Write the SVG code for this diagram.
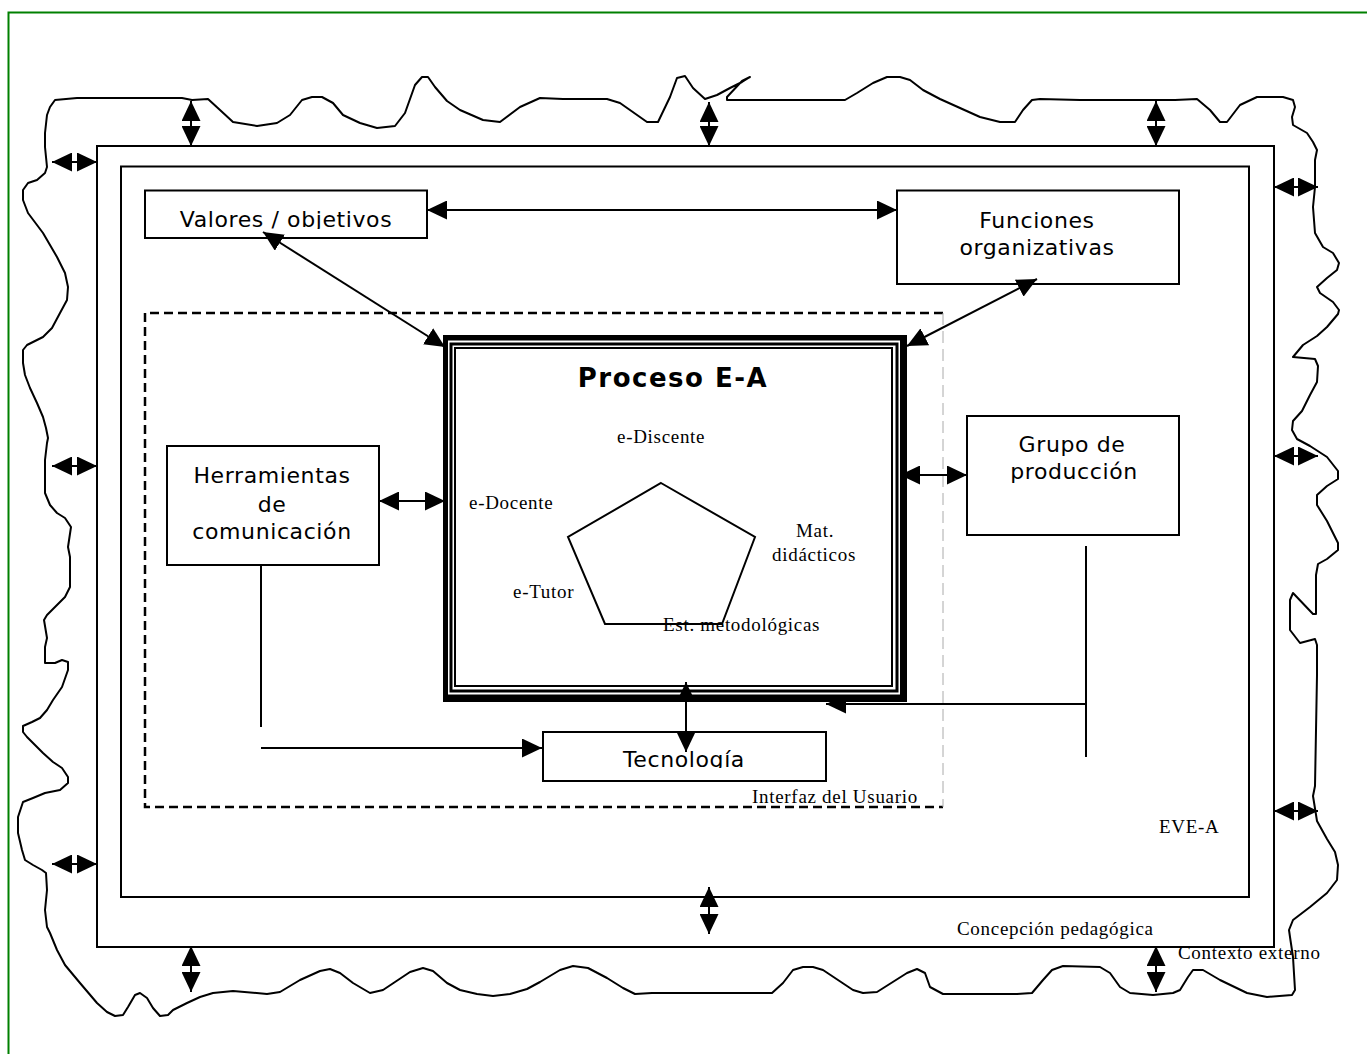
<svg xmlns="http://www.w3.org/2000/svg" width="1367" height="1054" viewBox="0 0 1367 1054">
<defs>
<style>
.ln{fill:none;stroke:#000;stroke-width:2}
.box{fill:#fff;stroke:#000;stroke-width:2}
.sans{font-family:"DejaVu Sans","Verdana",sans-serif;font-size:22px;letter-spacing:0.6px;fill:#000;text-anchor:middle}
.serif{font-family:"Liberation Serif","Times New Roman",serif;font-size:19px;letter-spacing:0.7px;fill:#000}
.con{fill:none;stroke:#000;stroke-width:2}
.dbl{marker-start:url(#ah);marker-end:url(#ah)}
.end{marker-end:url(#ah)}
</style>
<marker id="ah" viewBox="0 0 20 19" refX="20" refY="9.5" markerWidth="20" markerHeight="19" markerUnits="userSpaceOnUse" orient="auto-start-reverse">
<path d="M0,0 L20,9.5 L0,19 Z" fill="#000"/>
</marker>
<clipPath id="clipVal"><rect x="145" y="190" width="282" height="39"/></clipPath>
<clipPath id="clipTec"><rect x="543" y="732" width="283" height="36"/></clipPath>
</defs>
<rect x="0" y="0" width="1367" height="1054" fill="#fff"/>
<g id="frame"><rect x="8.5" y="12.5" width="1400" height="1100" fill="none" stroke="#008000" stroke-width="2"/></g>

<g id="contexto-externo">
<path class="ln" stroke-linejoin="round" d="M50,107 L55,100 L77,98 L182,98 L192,100 L208,99 L220,110 L233,122 L257,126 L277,123 L290,115 L302,100 L312,97 L322,97 L333,103 L343,115 L360,123 L377,128 L395,126 L405,113 L415,85 L422,77 L428,77 L435,87 L447,101 L460,110 L483,120 L500,122 L520,107 L540,98 L563,99 L607,99 L620,103 L647,122 L658,122 L670,97 L677,78 L685,76 L693,88 L705,99 L717,95 L730,88 L742,82 L750,77 L742,81 L727,97 L727,100 L845,100 L857,93 L873,83 L887,77 L900,77 L910,80 L923,90 L940,99 L980,117 L1000,122 L1015,122 L1023,110 L1032,100 L1040,99 L1080,100 L1175,100 L1197,99 L1210,110 L1220,122 L1227,122 L1240,105 L1257,97 L1283,97 L1293,100 L1295,107 L1292,117 L1293,125 L1307,133 L1313,142 L1317,150 L1315,160 L1315,187 L1313,207 L1315,233 L1323,247 L1333,253 L1339,263 L1337,270 L1327,278 L1317,287 L1320,293 L1333,302 L1339,310 L1338,314 L1327,327 L1317,336 L1303,345 L1293,357 L1315,359 L1318,366 L1317,382 L1310,395 L1302,411 L1293,421 L1292,430 L1297,439 L1310,446 L1327,457 L1338,471 L1338,479 L1327,486 L1317,495 L1317,505 L1327,521 L1338,543 L1338,550 L1327,559 L1318,564 L1316,575 L1316,614 L1313,614 L1293,593 L1290,600 L1290,630 L1300,643 L1315,639 L1317,645 L1317,675 L1315,786 L1313,796 L1317,821 L1327,839 L1335,852 L1338,865 L1337,880 L1327,893 L1310,907 L1293,920 L1289,930 L1290,937 L1293,957 L1295,990 L1292,995 L1267,997 L1247,993 L1220,980 L1203,970 L1193,970 L1188,977 L1180,990 L1173,993 L1153,995 L1130,993 L1120,987 L1110,973 L1100,967 L1063,966 L1052,970 L1043,980 L1032,993 L1017,994 L943,994 L930,987 L925,973 L917,969 L907,973 L877,992 L863,993 L853,990 L823,970 L813,967 L803,967 L793,970 L783,983 L772,993 L757,993 L652,993 L635,994 L623,988 L607,978 L588,968 L573,966 L560,970 L540,982 L527,989 L510,994 L493,996 L477,994 L460,990 L447,983 L433,971 L423,968 L410,972 L383,990 L370,993 L353,983 L340,973 L330,969 L320,971 L300,980 L280,992 L267,994 L233,991 L213,993 L200,997 L187,1003 L173,1010 L168,1015 L160,1016 L153,1008 L147,998 L140,993 L135,995 L128,1007 L123,1015 L115,1016 L107,1012 L97,1003 L80,983 L65,965 L57,950 L50,933 L47,927 L45,910 L47,890 L46,873 L42,870 L33,865 L25,860 L22,850 L18,833 L18,817 L23,802 L33,798 L45,793 L60,790 L68,783 L68,777 L62,768 L53,762 L43,753 L35,745 L27,737 L23,732 L23,726 L32,722 L40,718 L47,710 L53,700 L62,687 L68,670 L68,662 L62,660 L55,663 L45,663 L45,647 L47,638 L44,620 L47,615 L55,607 L65,597 L70,587 L70,557 L68,547 L71,527 L65,518 L57,513 L50,505 L45,493 L45,460 L47,443 L48,438 L46,428 L43,417 L37,403 L30,388 L25,375 L23,363 L23,350 L27,345 L37,340 L43,337 L52,328 L60,313 L67,300 L68,287 L65,273 L57,257 L43,233 L28,213 L23,200 L23,190 L28,183 L37,180 L45,173 L47,167 L45,147 L45,133 L47,115 Z"/>
<text class="serif" x="1178" y="959">Contexto externo</text>
</g>

<g id="concepcion-pedagogica">
<rect class="ln" x="97" y="146" width="1177" height="801"/>
<text class="serif" x="957" y="935">Concepción pedagógica</text>
</g>

<g id="eve-a">
<rect class="ln" x="121" y="166.5" width="1128" height="730.5"/>
<text class="serif" x="1159" y="833">EVE-A</text>
</g>

<g id="interfaz-usuario">
<path d="M943,313 H145 V807 H943" fill="none" stroke="#000" stroke-width="2.5" stroke-dasharray="9 5"/>
<path d="M943,313 V807" fill="none" stroke="#aaa" stroke-width="1" stroke-dasharray="12 6"/>
<text class="serif" x="752" y="803">Interfaz del Usuario</text>
</g>

<g id="valores">
<rect class="box" x="145" y="190.5" width="282" height="47.5"/>
<text class="sans" x="286" y="227" clip-path="url(#clipVal)">Valores / objetivos</text>
</g>

<g id="funciones">
<rect class="box" x="897" y="190.5" width="282" height="93.5"/>
<text class="sans" x="1037" y="228">Funciones</text>
<text class="sans" x="1037" y="255">organizativas</text>
</g>

<g id="herramientas">
<rect class="box" x="167" y="446" width="212" height="119"/>
<text class="sans" x="272" y="483">Herramientas</text>
<text class="sans" x="272" y="512">de</text>
<text class="sans" x="272" y="539">comunicación</text>
</g>

<g id="grupo">
<rect class="box" x="967" y="416" width="212" height="119"/>
<text class="sans" x="1072" y="452">Grupo de</text>
<text class="sans" x="1074" y="479">producción</text>
</g>

<g id="tecnologia">
<rect class="box" x="543" y="732" width="283" height="49"/>
<text class="sans" x="684" y="767" clip-path="url(#clipTec)">Tecnología</text>
</g>

<g id="proceso">
<rect x="443" y="335" width="464" height="367" fill="#000"/>
<rect x="448" y="340.5" width="452" height="354" fill="#fff"/>
<rect x="451" y="344" width="446" height="347" fill="none" stroke="#000" stroke-width="3"/>
<rect x="455" y="348" width="437" height="338" fill="#fff" stroke="#000" stroke-width="2"/>
<text x="673" y="387" font-family="DejaVu Sans, Verdana, sans-serif" font-size="26" font-weight="bold" letter-spacing="1.5" text-anchor="middle">Proceso E-A</text>
<polygon points="661,483 755,537 722,624 605,624 568,537" fill="none" stroke="#000" stroke-width="2"/>
<text class="serif" x="617" y="443">e-Discente</text>
<text class="serif" x="469" y="509">e-Docente</text>
<text class="serif" x="796" y="537">Mat.</text>
<text class="serif" x="772" y="561">didácticos</text>
<text class="serif" x="513" y="598">e-Tutor</text>
<text class="serif" x="663" y="631">Est. metodológicas</text>
</g>

<g id="connectors">
<line class="con dbl" x1="427" y1="210" x2="897" y2="210"/>
<line class="con dbl" x1="263" y1="232" x2="445" y2="347"/>
<line class="con dbl" x1="1037" y1="279" x2="907" y2="346"/>
<line class="con dbl" x1="379" y1="501" x2="445" y2="501"/>
<line class="con dbl" x1="900" y1="475" x2="967" y2="475"/>
<line class="con dbl" x1="686" y1="682" x2="686" y2="752"/>
<line class="con" x1="261" y1="565" x2="261" y2="727"/>
<line class="con end" x1="261" y1="748" x2="542" y2="748"/>
<line class="con" x1="1086" y1="546" x2="1086" y2="757"/>
<line class="con end" x1="1086" y1="704" x2="826" y2="704"/>
<line class="con dbl" x1="191" y1="101" x2="191" y2="146"/>
<line class="con dbl" x1="709" y1="102" x2="709" y2="146"/>
<line class="con dbl" x1="1156" y1="101" x2="1156" y2="146"/>
<line class="con dbl" x1="709" y1="887" x2="709" y2="934"/>
<line class="con dbl" x1="191" y1="946" x2="191" y2="992"/>
<line class="con dbl" x1="1156" y1="946" x2="1156" y2="992"/>
<line class="con dbl" x1="52" y1="162" x2="97" y2="162"/>
<line class="con dbl" x1="52" y1="466" x2="97" y2="466"/>
<line class="con dbl" x1="52" y1="864" x2="97" y2="864"/>
<line class="con dbl" x1="1274" y1="187" x2="1318" y2="187"/>
<line class="con dbl" x1="1274" y1="456" x2="1318" y2="456"/>
<line class="con dbl" x1="1274" y1="811" x2="1318" y2="811"/>
</g>
</svg>
